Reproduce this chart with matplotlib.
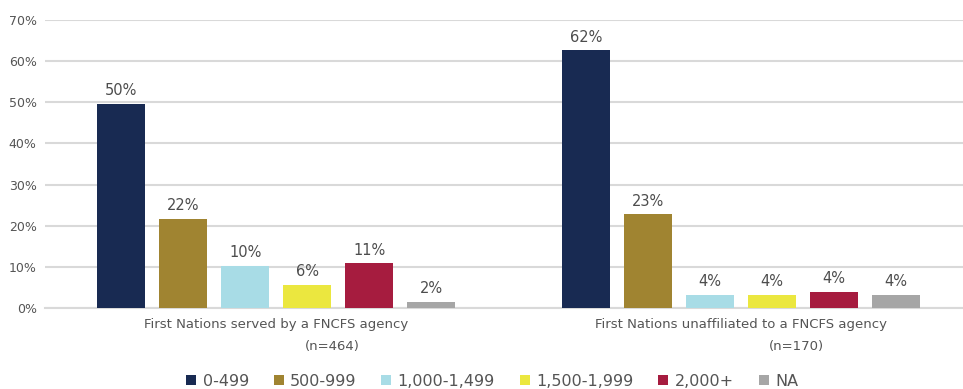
import numpy as np
import matplotlib
matplotlib.use("Agg")
from matplotlib import pyplot as plt
from matplotlib.patches import Patch

# ------------------------------------------------------------------
# Data
# ------------------------------------------------------------------
groups = ["First Nations served by a FNCFS agency",
          "First Nations unaffiliated to a FNCFS agency"]
group_n = ["(n=464)", "(n=170)"]
sizes = ["0-499", "500-999", "1,000-1,499", "1,500-1,999", "2,000+", "NA"]
colors = ["#182a52", "#a08431", "#a8dce6", "#ebe73f", "#a61c3f", "#a6a6a6"]

# bar heights (%) per size class, one list per group
served = [49.6, 21.7, 10.3, 5.7, 10.9, 1.5]
unaffiliated = [62.6, 22.8, 3.2, 3.2, 3.9, 3.2]
# printed labels on top of the bars
served_lbl = ["50%", "22%", "10%", "6%", "11%", "2%"]
unaffiliated_lbl = ["62%", "23%", "4%", "4%", "4%", "4%"]

yticks = [0, 10, 20, 30, 40, 50, 60, 70]

plt.rcParams["font.family"] = ["DejaVu Sans"]
txt = "#555555"

fig = plt.figure(figsize=(9.63, 3.89), dpi=100)
ax = fig.add_axes([45 / 963, 81 / 389, 918 / 963, 288 / 389])

x = np.arange(len(groups))
step = 0.1335
width = 0.103
values = np.array([served, unaffiliated])
labels = [served_lbl, unaffiliated_lbl]

for i, (name, col) in enumerate(zip(sizes, colors)):
    pos = x + (i - 2.5) * step
    bars = ax.bar(pos, values[:, i], width, color=col, zorder=3, label=name)
    for b, lab in zip(bars, [labels[0][i], labels[1][i]]):
        ax.annotate(lab, (b.get_x() + b.get_width() / 2, b.get_height()),
                    xytext=(0, 4), textcoords="offset points",
                    ha="center", va="bottom", fontsize=10.5, color="#4d4d4d")

ax.set_xlim(-0.498, 1.478)
ax.set_ylim(0, 70)
ax.set_yticks(yticks)
ax.set_yticklabels(["%d%%" % t for t in yticks], fontsize=9, color=txt)
ax.yaxis.grid(True, color="#d9d9d9", lw=1.5, zorder=0)
ax.tick_params(axis="y", length=0, pad=6)
ax.tick_params(axis="x", length=0)
for s in ["top", "right", "left"]:
    ax.spines[s].set_visible(False)
ax.spines["bottom"].set_color("#d9d9d9")
ax.spines["bottom"].set_linewidth(1.5)

ax.set_xticks(x)
ax.set_xticklabels(groups, fontsize=9.5, color=txt)
ax.tick_params(axis="x", pad=7)
for xi, n in zip(x, group_n):
    ax.annotate(n, (xi + 0.12, 0), xytext=(0, -23), textcoords="offset points",
                ha="center", va="top", fontsize=9.5, color=txt)

handles = [Patch(facecolor=c, label=s) for s, c in zip(sizes, colors)]
fig.legend(handles=handles, loc="center", bbox_to_anchor=(0.511, 8 / 389),
           ncol=6, frameon=False, fontsize=11.5, labelcolor=txt,
           handlelength=0.63, handleheight=0.63, handletextpad=0.4,
           columnspacing=1.55, borderpad=0)

plt.savefig("out.png", dpi=100)
